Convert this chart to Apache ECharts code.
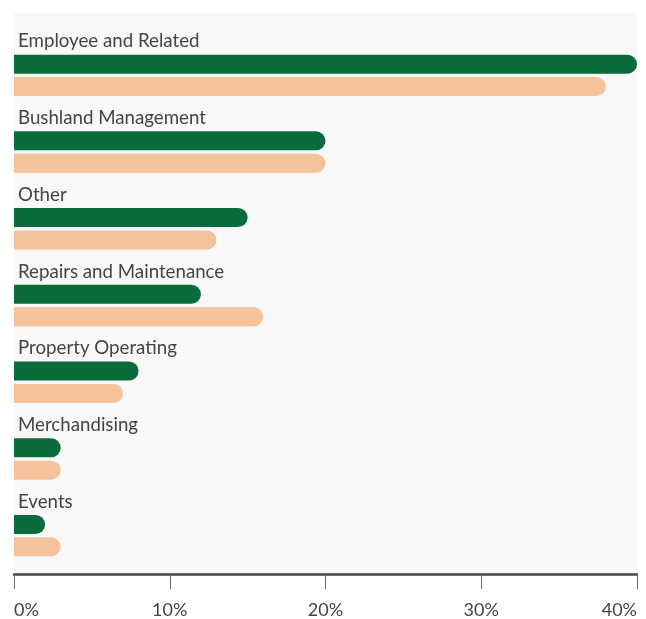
<!DOCTYPE html>
<html><head><meta charset="utf-8">
<script src="https://cdn.jsdelivr.net/npm/echarts@6/dist/echarts.min.js"></script>
<style>html,body{margin:0;padding:0;background:#fff}#c{width:646px;height:619px}</style>
</head><body><div id="c"></div>
<script>
const categories = ['Employee and Related','Bushland Management','Other','Repairs and Maintenance','Property Operating','Merchandising','Events'];
const seriesA = [40, 20, 15, 12, 8, 3, 2];
const seriesB = [38, 20, 13, 16, 7, 3, 3];
const xTicks = [0, 10, 20, 30, 40];

const chart = echarts.init(document.getElementById('c'), null, {renderer:'canvas'});
const font = 'Lato, "Noto Sans", sans-serif';
chart.setOption({
  animation:false,
  backgroundColor:'#fff',
  graphic:[{type:'rect', z:-10, silent:true, shape:{x:14,y:13,width:623,height:562}, style:{fill:'#f8f8f8'}}],
  grid:{left:14, right:9, top:37, height:539, containLabel:false},
  xAxis:{type:'value', min:xTicks[0], max:xTicks[xTicks.length-1], interval:10,
    axisLine:{show:true, lineStyle:{color:'#444', width:2.5}},
    axisTick:{show:true, length:15, lineStyle:{color:'#666', width:1}},
    splitLine:{show:false},
    axisLabel:{formatter:'{value}%', color:'#444', fontSize:18, fontFamily:font, margin:27, alignMinLabel:'left', alignMaxLabel:'right'}
  },
  yAxis:{type:'category', data:categories, inverse:true,
    axisLine:{show:false}, axisTick:{show:false}, splitLine:{show:false},
    axisLabel:{inside:true, margin:4, align:'left', verticalAlign:'middle', interval:0, showMinLabel:true, showMaxLabel:true, hideOverlap:false,
      formatter: v => '{t|' + v + '}\n{s|}',
      rich:{t:{color:'#444', fontSize:18.7, fontFamily:font, height:22, lineHeight:22}, s:{height:68, lineHeight:68}}
    }
  },
  series:[
    {type:'bar', data:seriesA, barWidth:19, barGap:'18%', itemStyle:{color:'#0c6b3a', borderRadius:[0,9.5,9.5,0]}},
    {type:'bar', data:seriesB, barWidth:19, barGap:'18%', itemStyle:{color:'#f4c39b', borderRadius:[0,9.5,9.5,0]}}
  ]
});
</script></body></html>
